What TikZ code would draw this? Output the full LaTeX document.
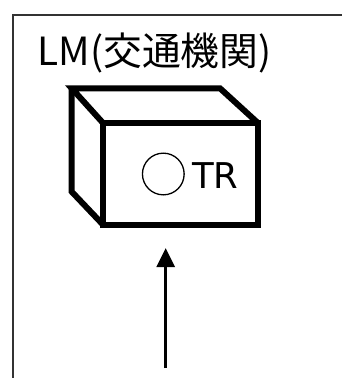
\documentclass[tikz,border=0pt]{standalone}
\usepackage{fontspec}
\setmainfont{Noto Sans CJK JP}
\newfontfamily\latinfont{DejaVu Sans}
\usetikzlibrary{arrows.meta}
\begin{document}
\begin{tikzpicture}[x=1pt,y=1pt,
  boxline/.style={line width=6pt,line join=miter},
  frameline/.style={line width=1.8pt,draw=black!80},
  arr/.style={line width=3pt,-{Triangle[length=19pt,width=18pt]}}]
\useasboundingbox (0,0) rectangle (342,-378);
\draw[frameline] (13,-378) -- (13,-15) -- (342,-15);
\node[anchor=base west,inner sep=0pt,font=\fontsize{38.8}{42}\selectfont] (title) at (37.5,-65.5) {LM(交通機関)};
% box
\coordinate (btl) at (71.7,-88.3);
\coordinate (btr) at (220,-88.3);
\coordinate (bbl) at (71.7,-191.7);
\coordinate (ftl) at (103.3,-123.3);
\coordinate (ftr) at (258.3,-123.3);
\coordinate (fbl) at (103.3,-225);
\coordinate (fbr) at (258.3,-225);
\draw[boxline] (ftl) -- (btl) -- (btr) -- (ftr);
\draw[boxline] (btl) -- (bbl) -- (fbl);
\draw[boxline] (ftl) rectangle (fbr);
\node[draw,circle,line width=1.3pt,minimum size=41.7pt,inner sep=0pt] (lamp) at (163.3,-174) {};
\node[anchor=base west,inner sep=0pt,font=\latinfont\fontsize{35.5}{39}\selectfont] (tr) at (192,-188.5) {TR};
\coordinate (tail) at (165.7,-368);
\coordinate (tip) at (165.7,-248);
\draw[arr] (tail) -- (tip);
\end{tikzpicture}
\end{document}
